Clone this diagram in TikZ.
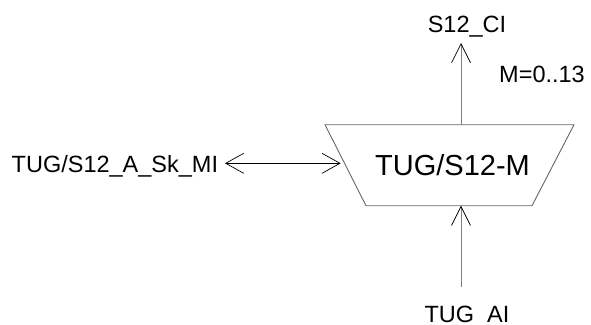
\documentclass[tikz,border=0pt]{standalone}
\usepackage{fontspec}
\setmainfont{Liberation Sans}
\usetikzlibrary{arrows.meta}
\tikzset{
  lbl/.style={inner sep=0pt, font=\fontsize{23.5}{26}\selectfont},
  big/.style={inner sep=0pt, font=\fontsize{29}{32}\selectfont},
  shaft/.style={draw=black!50, line width=0.9pt},
  tip/.style={-{Straight Barb[length=19pt,width=19pt,black,line width=0.7pt]}},
  both/.style={{Straight Barb[length=18pt,width=20pt,black,line width=0.7pt]}-{Straight Barb[length=18pt,width=20pt,black,line width=0.7pt]}},
  edge/.style={draw=black!60, line width=0.9pt}
}
\begin{document}
\begin{tikzpicture}[x=1pt,y=-1pt]
\useasboundingbox (0,0) rectangle (591,324);
\clip (0,0) rectangle (591,324);
% trapezoid
\coordinate (tl) at (325,124.7);
\coordinate (tr) at (574,124.7);
\coordinate (br) at (532,205.7);
\coordinate (bl) at (366,205.7);
\draw[edge] (tl) -- (tr) -- (br) -- (bl) -- cycle;
\node[big, anchor=base] (mux) at (452.5,175) {TUG/S12-M};
\coordinate (topin) at (461,124.7);
\coordinate (botin) at (461,205.7);
\coordinate (leftin) at (340.7,163.3);
% labels
\node[lbl, anchor=base] (sci) at (467,32.5) {S12\_CI};
\coordinate (topend) at (461,43);
\node[lbl, anchor=base west] (m) at (499,82) {M=0..13};
\node[lbl, anchor=base west] (ski) at (11.5,172) {TUG/S12\_A\_Sk\_MI};
\coordinate (leftend) at (225,163.3);
\node[lbl, anchor=base] (tai) at (467,322.5) {TUG\_AI};
\coordinate (botend) at (461,286.7);
% connectors
\draw[shaft, tip] (topin) -- (topend);
\draw[shaft, tip] (botend) -- (botin);
\draw[line width=0.8pt, both] (leftend) -- (leftin);
\end{tikzpicture}
\end{document}
